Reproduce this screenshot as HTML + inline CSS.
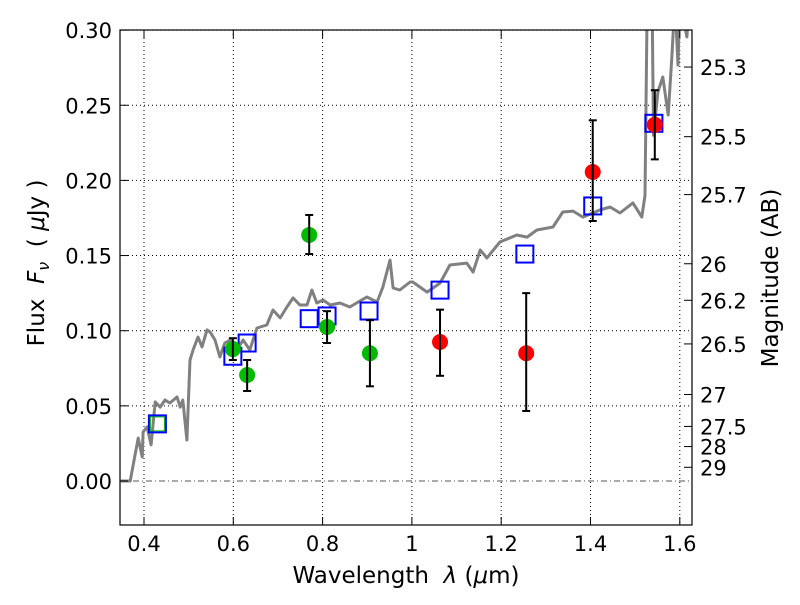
<!DOCTYPE html>
<html><head><meta charset="utf-8"><style>
body{margin:0;background:#fff}
svg text{font-family:"DejaVu Sans","Liberation Sans",sans-serif;fill:#000;white-space:pre}
</style></head><body>
<svg id="chart" width="800" height="600" viewBox="0 0 800 600" xmlns="http://www.w3.org/2000/svg" xml:space="preserve">
<defs><clipPath id="clip"><rect x="120" y="30" width="572" height="495"/></clipPath></defs>
<g id="grid"></g>
<g id="spec" clip-path="url(#clip)"></g>
<g id="marks" clip-path="url(#clip)"></g>
<rect x="120" y="30" width="572" height="495" fill="none" stroke="#000" stroke-width="1.2"/>
<g id="axes"></g>
<text x="406" y="583" font-size="23" text-anchor="middle">Wavelength  <tspan font-style="italic">λ</tspan> (<tspan font-style="italic">μ</tspan>m)</text>
<text transform="translate(44,263) rotate(-90)" font-size="23" text-anchor="middle">Flux  <tspan font-style="italic">F</tspan><tspan font-style="italic" font-size="16" dy="5">ν</tspan><tspan dy="-5">  ( </tspan><tspan font-style="italic">μ</tspan>Jy )</text>
<text transform="translate(778,278) rotate(-90)" font-size="23" text-anchor="middle">Magnitude (AB)</text>
</svg>
<script>
const specLam=[0.348,0.369,0.387,0.396,0.398,0.407,0.416,0.425,0.436,0.447,0.458,0.474,0.481,0.487,0.496,0.503,0.510,0.521,0.530,0.541,0.548,0.559,0.570,0.581,0.593,0.608,0.622,0.637,0.653,0.675,0.689,0.705,0.720,0.734,0.749,0.765,0.776,0.787,0.801,0.817,0.839,0.861,0.899,0.922,0.935,0.951,0.958,0.973,0.996,1.002,1.034,1.063,1.085,1.123,1.137,1.153,1.168,1.197,1.235,1.258,1.280,1.316,1.338,1.361,1.383,1.421,1.444,1.466,1.495,1.515,1.522,1.527,1.538,1.541,1.551,1.562,1.574,1.582,1.589,1.596,1.600,1.616,1.622];
const specFlux=[0,0,0.0286,0.016,0.0326,0.036,0.024,0.0526,0.0492,0.0539,0.0519,0.0559,0.0492,0.0539,0.0273,0.0805,0.0872,0.0958,0.0892,0.1005,0.0991,0.0938,0.0825,0.0918,0.0938,0.0872,0.0938,0.0872,0.1018,0.1038,0.1138,0.1085,0.1158,0.1218,0.1171,0.1171,0.1271,0.1184,0.1204,0.1171,0.1184,0.1158,0.1224,0.1191,0.1291,0.147,0.1284,0.1271,0.1324,0.1324,0.1257,0.1317,0.1437,0.145,0.139,0.1537,0.1484,0.159,0.1637,0.1623,0.167,0.169,0.179,0.1796,0.1756,0.1803,0.1823,0.1783,0.185,0.1756,0.190,0.32,0.32,0.230,0.2588,0.2688,0.2435,0.2814,0.32,0.2768,0.32,0.2954,0.32];
const greenLam=[0.599,0.631,0.770,0.810,0.906];
const greenFlux=[0.0878,0.0705,0.1637,0.1025,0.085];
const greenHi=[0.095,0.0805,0.177,0.113,0.107];
const greenLo=[0.0805,0.0599,0.151,0.0918,0.063];
const redLam=[1.063,1.256,1.405,1.544];
const redFlux=[0.0925,0.085,0.2056,0.237];
const redHi=[0.114,0.125,0.240,0.260];
const redLo=[0.070,0.0466,0.173,0.214];
const modelLam=[0.43,0.599,0.631,0.770,0.810,0.904,1.063,1.253,1.405,1.542];
const modelFlux=[0.038,0.083,0.0918,0.108,0.1098,0.1131,0.127,0.151,0.183,0.238];
const xTicks=[0.4,0.6,0.8,1.0,1.2,1.4,1.6];
const xTickLabels=["0.4","0.6","0.8","1","1.2","1.4","1.6"];
const yTicks=[0,0.05,0.10,0.15,0.20,0.25,0.30];
const yTickLabels=["0.00","0.05","0.10","0.15","0.20","0.25","0.30"];
const magTicks=[25.3,25.5,25.7,26,26.2,26.5,27,27.5,28,29];
const magTickLabels=["25.3","25.5","25.7","26","26.2","26.5","27","27.5","28","29"];

const X=v=>144+(v-0.4)*446.5;
const Y=v=>481-v*1503;
const NS="http://www.w3.org/2000/svg";
function mk(tag,attrs,parent){const e=document.createElementNS(NS,tag);for(const k in attrs)e.setAttribute(k,attrs[k]);parent.appendChild(e);return e;}
const grid=document.getElementById('grid'),axes=document.getElementById('axes'),spec=document.getElementById('spec'),marks=document.getElementById('marks');

xTicks.forEach((t,i)=>{
  const g=mk('line',{x1:X(t),x2:X(t),y1:30,y2:525,stroke:'#000','stroke-width':1,'stroke-dasharray':'1,3'},grid);
  
  
  mk('line',{x1:X(t),x2:X(t),y1:525,y2:517,stroke:'#000'},axes);
  mk('line',{x1:X(t),x2:X(t),y1:30,y2:38,stroke:'#000'},axes);
  const tx=mk('text',{x:X(t),y:551,'font-size':21,'text-anchor':'middle'},axes);
  tx.textContent=xTickLabels[i];
  
  
});
yTicks.forEach((t,i)=>{
  const g=mk('line',{x1:120,x2:692,y1:Y(t),y2:Y(t),stroke:t===0?'#555':'#000','stroke-width':1,'stroke-dasharray':t===0?'6,3,1,3':'1,3'},grid);
  
  
  mk('line',{x1:120,x2:128,y1:Y(t),y2:Y(t),stroke:'#000'},axes);
  const tx=mk('text',{x:112,y:Y(t)+8,'font-size':21,'text-anchor':'end'},axes);
  tx.textContent=yTickLabels[i];
  
  
});
magTicks.forEach((m,i)=>{
  const f=Math.pow(10,(23.9-m)/2.5);
  mk('line',{x1:684,x2:692,y1:Y(f),y2:Y(f),stroke:'#000'},axes);
  const tx=mk('text',{x:700,y:Y(f)+8,'font-size':21},axes);
  tx.textContent=magTickLabels[i];
  
  
});
const sp=mk('path',{d:specLam.map((l,i)=>(i?'L':'M')+X(l).toFixed(1)+','+Y(specFlux[i]).toFixed(1)).join(''),fill:'none',stroke:'#808080','stroke-width':3,'stroke-linejoin':'round'},spec);



const gsq=mk('rect',{x:X(0.43)-7,y:Y(0.038)-7,width:14,height:14,fill:'none',stroke:'#00bb00','stroke-width':1},marks);



function errbar(x,lo,hi){
  mk('line',{x1:X(x),x2:X(x),y1:Y(lo),y2:Y(hi),stroke:'#000','stroke-width':2},marks);
  mk('line',{x1:X(x)-4,x2:X(x)+4,y1:Y(lo),y2:Y(lo),stroke:'#000','stroke-width':2},marks);
  mk('line',{x1:X(x)-4,x2:X(x)+4,y1:Y(hi),y2:Y(hi),stroke:'#000','stroke-width':2},marks);
}
modelLam.forEach((l,i)=>{
  const r=mk('rect',{x:X(l)-8.5,y:Y(modelFlux[i])-8.5,width:17,height:17,fill:'none',stroke:'#0000ff','stroke-width':2},marks);
  
  
});
greenLam.forEach((l,i)=>{
  const c=mk('circle',{cx:X(l),cy:Y(greenFlux[i]),r:8,fill:'#00bb00'},marks);
  
  
  errbar(l,greenLo[i],greenHi[i]);
});
redLam.forEach((l,i)=>{
  const c=mk('circle',{cx:X(l),cy:Y(redFlux[i]),r:8,fill:'#ff0000'},marks);
  
  
  errbar(l,redLo[i],redHi[i]);
});
</script>
</body></html>
